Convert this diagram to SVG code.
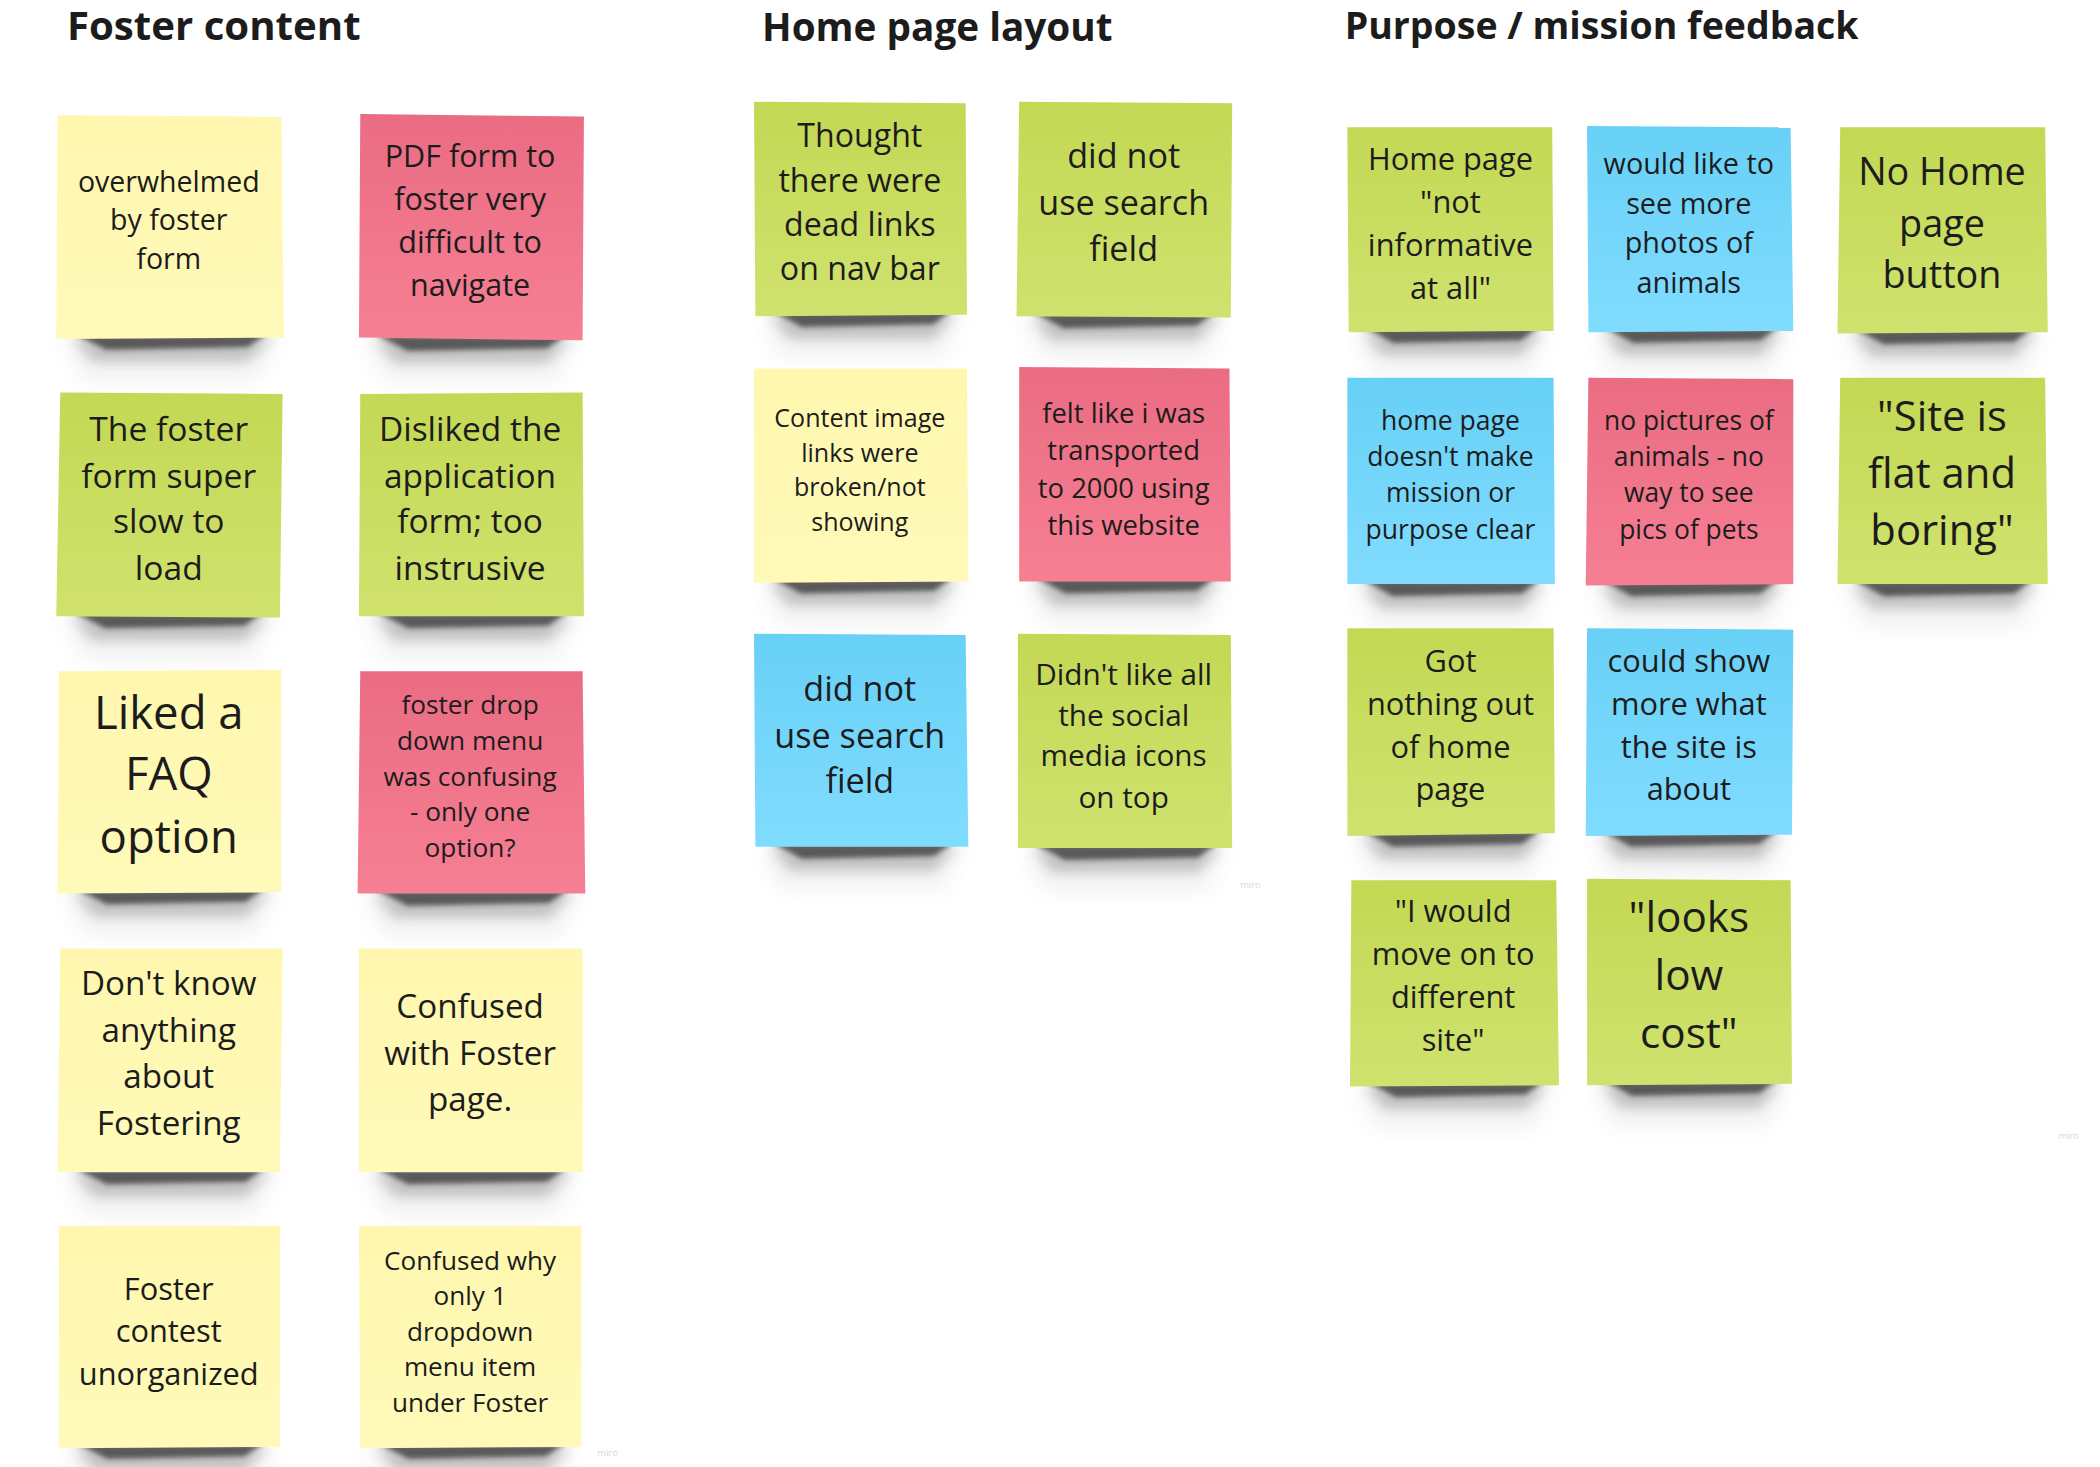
<svg xmlns="http://www.w3.org/2000/svg" xmlns:xlink="http://www.w3.org/1999/xlink" width="2100" height="1467" viewBox="0 0 2100 1467">
<style>
text{font-family:"Open Sans","Noto Sans","Liberation Sans",sans-serif;fill:#1c1c1c;text-anchor:middle}
.h{font-weight:700;text-anchor:start}
.m{fill:#d6d6e0;font-size:7px;text-anchor:start}
.y{fill:url(#gy)}.r{fill:url(#gr)}.g{fill:url(#gg)}.b{fill:url(#gb)}
.s1{fill:#222;opacity:.68;filter:url(#b1)}
.s2{fill:#333;opacity:.24;filter:url(#b2)}
.s3{fill:#444;opacity:.07;filter:url(#b3)}
</style>
<defs>
<linearGradient id="gy" x1="0" y1="0" x2="0" y2="1"><stop offset="0" stop-color="#fff7af"/><stop offset="1" stop-color="#fffab9"/></linearGradient>
<linearGradient id="gr" x1="0" y1="0" x2="0" y2="1"><stop offset="0" stop-color="#ea6c82"/><stop offset="1" stop-color="#f67f94"/></linearGradient>
<linearGradient id="gg" x1="0" y1="0" x2="0" y2="1"><stop offset="0" stop-color="#c3d854"/><stop offset="1" stop-color="#d0e26e"/></linearGradient>
<linearGradient id="gb" x1="0" y1="0" x2="0" y2="1"><stop offset="0" stop-color="#68d0f6"/><stop offset="1" stop-color="#80dcff"/></linearGradient>
<filter id="b1" x="-20%" y="-100%" width="140%" height="300%"><feGaussianBlur stdDeviation="1.2 2"/></filter>
<filter id="b2" x="-30%" y="-100%" width="160%" height="400%"><feGaussianBlur stdDeviation="3 4"/></filter>
<filter id="b3" x="-30%" y="-100%" width="160%" height="400%"><feGaussianBlur stdDeviation="5 7"/></filter>
<g id="sh">
<polygon class="s3" points="3,0 97,0 88,32 12,32"/>
<polygon class="s2" points="7,0 95,0 84,18 16,18"/>
<polygon class="s1" points="7.5,-3 93,-3 84,7 22,9"/>
</g>
</defs>
<rect width="2100" height="1467" fill="#fff"/>
<g transform="scale(1.33929 1.33973)">
<text class="h" x="50" y="30" font-size="30">Foster content</text>
<text class="h" x="569" y="30.5" font-size="28.9">Home page layout</text>
<text class="h" x="1004" y="29" font-size="28">Purpose / mission feedback</text>
<text class="m" x="446" y="1087">miro</text>
<text class="m" x="926" y="663">miro</text>
<text class="m" x="1537" y="850">miro</text>

<g id="n1"><use href="#sh" transform="translate(42 252) scale(1.7 1)"/><polygon class="y" points="43,86 210,87 212,252 42,253"/><text font-size="21.3"><tspan x="126" y="143">overwhelmed</tspan><tspan x="126" y="172">by foster</tspan><tspan x="126" y="201">form</tspan></text></g>
<g id="n2"><use href="#sh" transform="translate(268 253) scale(1.67 1)"/><polygon class="r" points="269,85 436,87 435,254 268,252"/><text font-size="22.8"><tspan x="351" y="125">PDF form to</tspan><tspan x="351" y="157">foster very</tspan><tspan x="351" y="189">difficult to</tspan><tspan x="351" y="221">navigate</tspan></text></g>
<g id="n3"><use href="#sh" transform="translate(42 460) scale(1.67 1)"/><polygon class="g" points="45,293 211,294 209,461 42,460"/><text font-size="25.1"><tspan x="126" y="329">The foster</tspan><tspan x="126" y="364">form super</tspan><tspan x="126" y="398">slow to</tspan><tspan x="126" y="433">load</tspan></text></g>
<g id="n4"><use href="#sh" transform="translate(268 460) scale(1.68 1)"/><polygon class="g" points="269,294 435,293 436,460 268,460"/><text font-size="25"><tspan x="351" y="329">Disliked the</tspan><tspan x="351" y="364">application</tspan><tspan x="351" y="398">form; too</tspan><tspan x="351" y="433">instrusive</tspan></text></g>
<g id="n5"><use href="#sh" transform="translate(43 666) scale(1.67 1)"/><polygon class="y" points="44,501 210,500 210,666 43,667"/><text font-size="34"><tspan x="126" y="544">Liked a</tspan><tspan x="126" y="590">FAQ</tspan><tspan x="126" y="637">option</tspan></text></g>
<g id="n6"><use href="#sh" transform="translate(267 667) scale(1.7 1)"/><polygon class="r" points="269,501 435,501 437,667 267,667"/><text font-size="19.6"><tspan x="351" y="533">foster drop</tspan><tspan x="351" y="560">down menu</tspan><tspan x="351" y="587">was confusing</tspan><tspan x="351" y="613">- only one</tspan><tspan x="351" y="640">option?</tspan></text></g>
<g id="n7"><use href="#sh" transform="translate(43 875) scale(1.67 1)"/><polygon class="y" points="45,708 211,708 209,875 43,875"/><text font-size="24.8"><tspan x="126" y="743">Don't know</tspan><tspan x="126" y="778">anything</tspan><tspan x="126" y="812">about</tspan><tspan x="126" y="847">Fostering</tspan></text></g>
<g id="n8"><use href="#sh" transform="translate(268 875) scale(1.67 1)"/><polygon class="y" points="268,708 435,708 435,875 268,875"/><text font-size="24.8"><tspan x="351" y="760">Confused</tspan><tspan x="351" y="795">with Foster</tspan><tspan x="351" y="829">page.</tspan></text></g>
<g id="n9"><use href="#sh" transform="translate(44 1080) scale(1.65 1)"/><polygon class="y" points="44,915 209,915 209,1080 44,1081"/><text font-size="23"><tspan x="126" y="970">Foster</tspan><tspan x="126" y="1002">contest</tspan><tspan x="126" y="1034">unorganized</tspan></text></g>
<g id="n10"><use href="#sh" transform="translate(269 1080) scale(1.65 1)"/><polygon class="y" points="268,915 434,915 434,1080 269,1081"/><text font-size="19.5"><tspan x="351" y="948">Confused why</tspan><tspan x="351" y="974">only 1</tspan><tspan x="351" y="1001">dropdown</tspan><tspan x="351" y="1027">menu item</tspan><tspan x="351" y="1054">under Foster</tspan></text></g>

<g id="n11"><use href="#sh" transform="translate(564 235) scale(1.58 1)"/><polygon class="g" points="563,76 721,77 722,235 564,236"/><text font-size="24"><tspan x="642" y="110">Thought</tspan><tspan x="642" y="143">there were</tspan><tspan x="642" y="176">dead links</tspan><tspan x="642" y="209">on nav bar</tspan></text></g>
<g id="n12"><use href="#sh" transform="translate(759 236) scale(1.6 1)"/><polygon class="g" points="761,76 920,77 919,237 759,236"/><text font-size="25.5"><tspan x="839" y="125.5">did not</tspan><tspan x="839" y="160.5">use search</tspan><tspan x="839" y="194.5">field</tspan></text></g>
<g id="n13"><use href="#sh" transform="translate(563 434) scale(1.6 1)"/><polygon class="y" points="563,275 722,275 723,434 563,435"/><text font-size="18.7"><tspan x="642" y="319">Content image</tspan><tspan x="642" y="345">links were</tspan><tspan x="642" y="370.5">broken/not</tspan><tspan x="642" y="396.5">showing</tspan></text></g>
<g id="n14"><use href="#sh" transform="translate(761 434) scale(1.58 1)"/><polygon class="r" points="761,274 918,275 919,434 761,434"/><text font-size="20.5"><tspan x="839" y="315.5">felt like i was</tspan><tspan x="839" y="343.5">transported</tspan><tspan x="839" y="371.5">to 2000 using</tspan><tspan x="839" y="399.5">this website</tspan></text></g>
<g id="n15"><use href="#sh" transform="translate(564 632) scale(1.59 1)"/><polygon class="b" points="563,473 721,474 723,632 564,632"/><text font-size="25.5"><tspan x="642" y="523">did not</tspan><tspan x="642" y="558">use search</tspan><tspan x="642" y="592">field</tspan></text></g>
<g id="n16"><use href="#sh" transform="translate(760 633) scale(1.6 1)"/><polygon class="g" points="760,473 919,474 920,633 760,633"/><text font-size="22.2"><tspan x="839" y="511">Didn't like all</tspan><tspan x="839" y="542">the social</tspan><tspan x="839" y="572">media icons</tspan><tspan x="839" y="603">on top</tspan></text></g>

<g id="n17"><use href="#sh" transform="translate(1007 247) scale(1.53 1)"/><polygon class="g" points="1006,95 1159,95 1160,247 1007,248"/><text font-size="23"><tspan x="1083" y="127">Home page</tspan><tspan x="1083" y="159">"not</tspan><tspan x="1083" y="191">informative</tspan><tspan x="1083" y="223">at all"</tspan></text></g>
<g id="n18"><use href="#sh" transform="translate(1186 247) scale(1.53 1)"/><polygon class="b" points="1185,94 1337,95 1339,247 1186,248"/><text font-size="21.5"><tspan x="1261" y="130">would like to</tspan><tspan x="1261" y="160">see more</tspan><tspan x="1261" y="189">photos of</tspan><tspan x="1261" y="219">animals</tspan></text></g>
<g id="n19"><use href="#sh" transform="translate(1372 248) scale(1.57 1)"/><polygon class="g" points="1374,95 1527,95 1529,248 1372,249"/><text font-size="28.2"><tspan x="1450" y="138">No Home</tspan><tspan x="1450" y="177">page</tspan><tspan x="1450" y="215">button</tspan></text></g>
<g id="n20"><use href="#sh" transform="translate(1006 436) scale(1.55 1)"/><polygon class="b" points="1006,282 1160,282 1161,436 1006,436"/><text font-size="19.8"><tspan x="1083" y="321">home page</tspan><tspan x="1083" y="348">doesn't make</tspan><tspan x="1083" y="375">mission or</tspan><tspan x="1083" y="402">purpose clear</tspan></text></g>
<g id="n21"><use href="#sh" transform="translate(1184 436) scale(1.55 1)"/><polygon class="r" points="1186,282 1339,283 1339,436 1184,437"/><text font-size="19.7"><tspan x="1261" y="321">no pictures of</tspan><tspan x="1261" y="348">animals - no</tspan><tspan x="1261" y="375">way to see</tspan><tspan x="1261" y="402">pics of pets</tspan></text></g>
<g id="n22"><use href="#sh" transform="translate(1372 436) scale(1.57 1)"/><polygon class="g" points="1374,282 1527,282 1529,436 1372,436"/><text font-size="31.2"><tspan x="1450" y="322">"Site is</tspan><tspan x="1450" y="364">flat and</tspan><tspan x="1450" y="407">boring"</tspan></text></g>
<g id="n23"><use href="#sh" transform="translate(1006 623) scale(1.55 1)"/><polygon class="g" points="1006,469 1160,469 1161,622 1006,624"/><text font-size="23"><tspan x="1083" y="501.5">Got</tspan><tspan x="1083" y="533.5">nothing out</tspan><tspan x="1083" y="565.5">of home</tspan><tspan x="1083" y="597.5">page</tspan></text></g>
<g id="n24"><use href="#sh" transform="translate(1184 623) scale(1.54 1)"/><polygon class="b" points="1185,469 1339,470 1338,623 1184,624"/><text font-size="23"><tspan x="1261" y="501.5">could show</tspan><tspan x="1261" y="533.5">more what</tspan><tspan x="1261" y="565.5">the site is</tspan><tspan x="1261" y="597.5">about</tspan></text></g>
<g id="n25"><use href="#sh" transform="translate(1008 810) scale(1.56 1)"/><polygon class="g" points="1009,657 1162,657 1164,810 1008,811"/><text font-size="23"><tspan x="1085" y="688.5">"I would</tspan><tspan x="1085" y="720.5">move on to</tspan><tspan x="1085" y="752.5">different</tspan><tspan x="1085" y="784.5">site"</tspan></text></g>
<g id="n26"><use href="#sh" transform="translate(1185 809) scale(1.53 1)"/><polygon class="g" points="1185,656 1337,657 1338,809 1185,810"/><text font-size="31.5"><tspan x="1261" y="696">"looks</tspan><tspan x="1261" y="739">low</tspan><tspan x="1261" y="782">cost"</tspan></text></g>
</g>
</svg>
